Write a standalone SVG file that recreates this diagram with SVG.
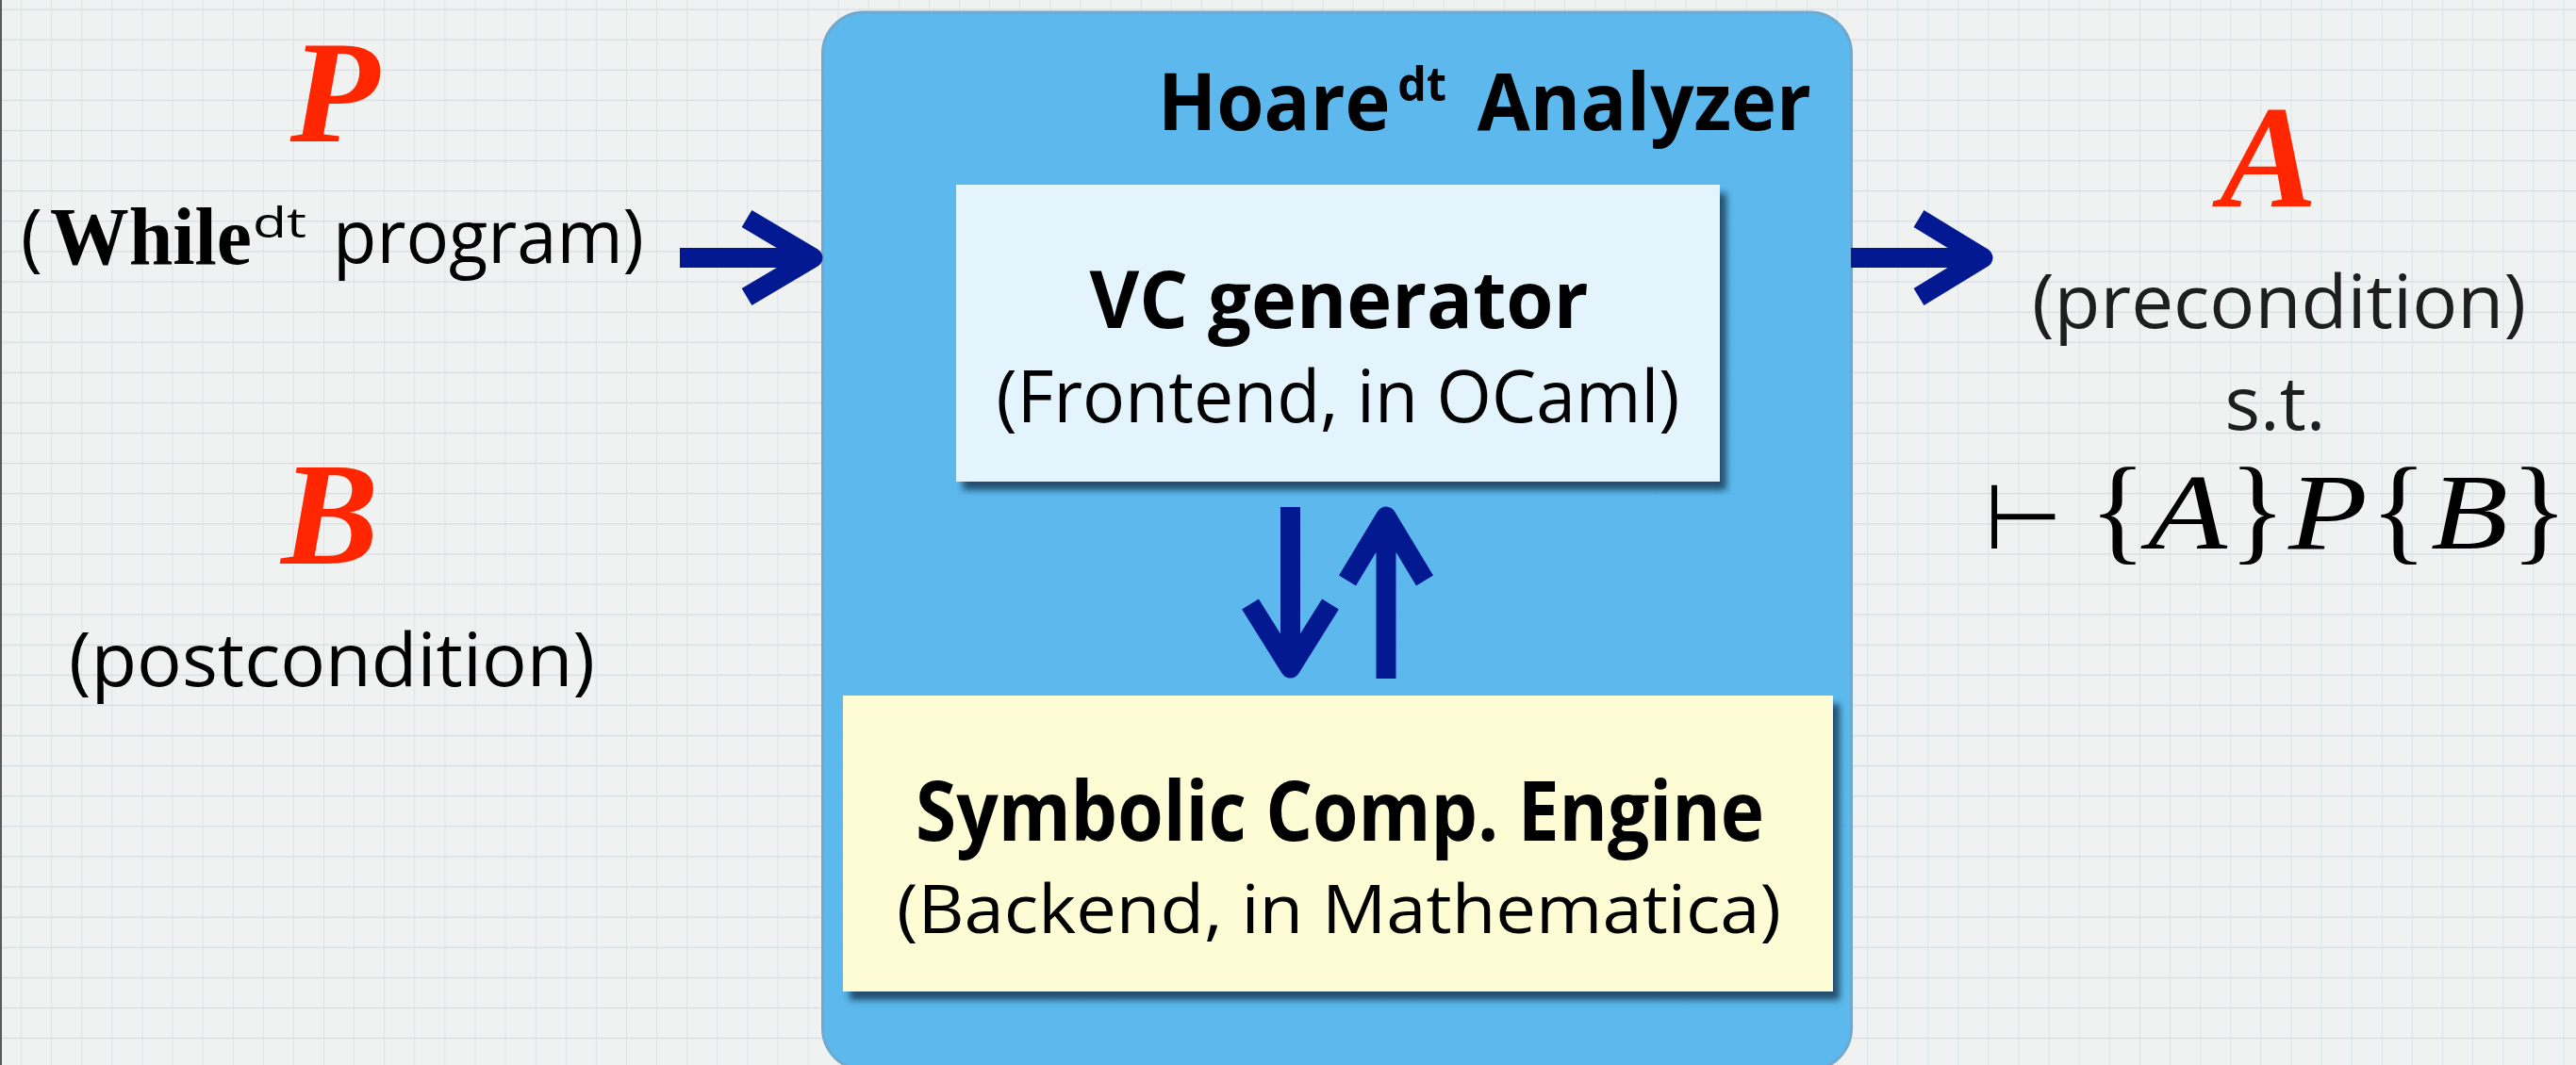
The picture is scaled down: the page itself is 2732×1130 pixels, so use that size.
<svg xmlns="http://www.w3.org/2000/svg" width="2732" height="1130" viewBox="0 0 2732 1130">
<defs>
  <pattern id="grid" patternUnits="userSpaceOnUse" x="22" y="9.5" width="32.1" height="32.1">
    <path d="M0 0 V32.1" stroke="#d9e4e8" stroke-width="2" fill="none"/>
    <path d="M0 0 H32.1" stroke="#d3dde1" stroke-width="2.5" fill="none"/>
  </pattern>
  <filter id="shadow" x="-5%" y="-5%" width="115%" height="120%">
    <feGaussianBlur in="SourceAlpha" stdDeviation="3.5"/>
    <feOffset dx="7" dy="9" result="b"/>
    <feFlood flood-color="#173b58" flood-opacity="0.85"/>
    <feComposite in2="b" operator="in"/>
    <feMerge><feMergeNode/><feMergeNode in="SourceGraphic"/></feMerge>
  </filter>
  <style>
    .hand { font-family: "Open Sans", "Noto Sans", "DejaVu Sans", sans-serif; fill: #000; }
    .b { font-weight: 700; }
    .gray { fill: #1e1e1e; }
    .var { font-family: "Liberation Serif", "Times New Roman", serif; font-style: italic; font-weight: 700; fill: #ff2600; font-size: 155px; }
    .serif { font-family: "Liberation Serif", "Times New Roman", serif; fill: #000; }
    .mi { font-family: "Liberation Serif", "Times New Roman", serif; font-style: italic; fill: #000; font-size: 115px; }
    .brace { font-family: "Liberation Serif", "Times New Roman", serif; fill: #000; font-size: 125px; }
    .arrow { stroke: #031992; stroke-width: 21; fill: none; stroke-linejoin: round; }
  </style>
</defs>

<rect x="0" y="0" width="2732" height="1130" fill="#f0f1f1"/>
<rect x="0" y="0" width="2732" height="1130" fill="url(#grid)"/>
<line x1="1" y1="0" x2="1" y2="1130" stroke="#5a5a5a" stroke-width="2"/>

<g id="analyzer">
  <rect x="872.5" y="13" width="1091" height="1122" rx="44" ry="44" fill="rgb(76,178,236)" fill-opacity="0.9" stroke="#70a9d0" stroke-width="3"/>
  <text x="1228" y="138" class="hand b" font-size="84" textLength="693" lengthAdjust="spacingAndGlyphs" fill="#1a1a1a">Hoare<tspan font-size="50" dx="8" dy="-31">dt</tspan><tspan dx="12" dy="31"> Analyzer</tspan></text>
</g>

<g id="vc-generator">
  <rect x="1014" y="196" width="810" height="315" fill="#e3f4fd" filter="url(#shadow)"/>
  <text x="1420" y="348" text-anchor="middle" class="hand b" font-size="84" textLength="529" lengthAdjust="spacingAndGlyphs">VC generator</text>
  <text x="1419" y="448" text-anchor="middle" class="hand" font-size="76" textLength="725" lengthAdjust="spacingAndGlyphs">(Frontend, in OCaml)</text>
</g>

<g id="symbolic-engine">
  <rect x="894" y="738" width="1050" height="314" fill="#fefcd4" filter="url(#shadow)"/>
  <text x="1421" y="892" text-anchor="middle" class="hand b" font-size="88" textLength="900" lengthAdjust="spacingAndGlyphs">Symbolic Comp. Engine</text>
  <text x="1420" y="990" text-anchor="middle" class="hand" font-size="72" textLength="938" lengthAdjust="spacingAndGlyphs">(Backend, in Mathematica)</text>
</g>

<g id="input-P">
  <text x="355" y="150" text-anchor="middle" class="var">P</text>
  <text x="22" y="279" class="hand" font-size="78">(</text>
  <text x="53" y="280" class="serif" font-weight="700" font-size="86" textLength="214" lengthAdjust="spacingAndGlyphs">While</text>
  <text x="268" y="252" class="hand" font-size="44" textLength="57" lengthAdjust="spacingAndGlyphs">dt</text>
  <text x="353" y="279" class="hand" font-size="78" textLength="330" lengthAdjust="spacingAndGlyphs">program)</text>
</g>

<g id="input-B">
  <text x="350" y="598" text-anchor="middle" class="var">B</text>
  <text x="352" y="728" text-anchor="middle" class="hand" font-size="78" textLength="558" lengthAdjust="spacingAndGlyphs">(postcondition)</text>
</g>

<g id="output-A">
  <text x="2406" y="219" text-anchor="middle" class="var">A</text>
  <text x="2417" y="348" text-anchor="middle" class="hand gray" font-size="78" textLength="524" lengthAdjust="spacingAndGlyphs">(precondition)</text>
  <text x="2413" y="456" text-anchor="middle" class="hand gray" font-size="78" textLength="107" lengthAdjust="spacingAndGlyphs">s.t.</text>
  <text x="2104" y="582" font-family="DejaVu Sans, sans-serif" font-size="96" fill="#000">⊢</text>
  <text x="2246" y="582" text-anchor="middle" class="brace">{</text>
  <text x="2320" y="582" text-anchor="middle" class="mi" textLength="84" lengthAdjust="spacingAndGlyphs">A</text>
  <text x="2394" y="582" text-anchor="middle" class="brace">}</text>
  <text x="2469" y="582" text-anchor="middle" class="mi" textLength="84" lengthAdjust="spacingAndGlyphs">P</text>
  <text x="2544" y="582" text-anchor="middle" class="brace">{</text>
  <text x="2619" y="582" text-anchor="middle" class="mi" textLength="82" lengthAdjust="spacingAndGlyphs">B</text>
  <text x="2693" y="582" text-anchor="middle" class="brace">}</text>
</g>

<g id="connectors">
  <path class="arrow" d="M721 273.5 H862 M792 232 L862 273.5 L792 315"/>
  <path class="arrow" d="M1963 273.5 H2103 M2035 232 L2103 273.5 L2035 315"/>
  <path class="arrow" d="M1368.5 538 V709 M1326 641 L1368.5 709 L1411 641"/>
  <path class="arrow" d="M1470 720 V548 M1429 616 L1470 548 L1511 616"/>
</g>
</svg>
